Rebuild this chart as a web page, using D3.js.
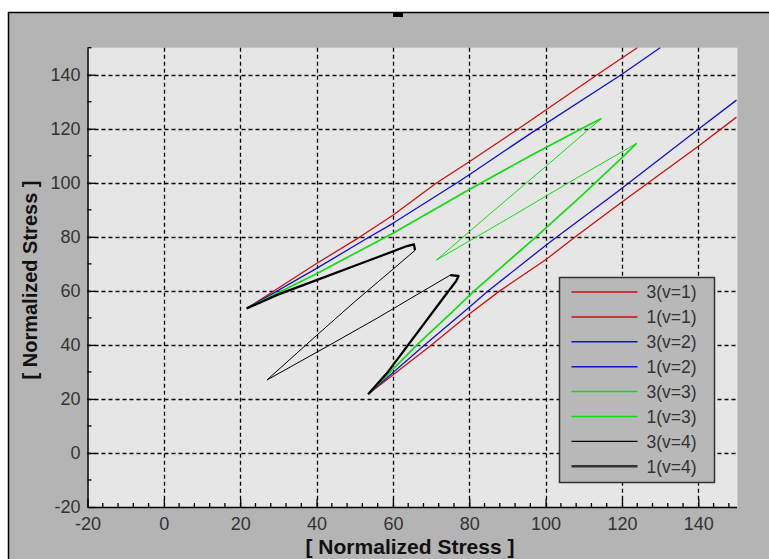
<!DOCTYPE html>
<html>
<head>
<meta charset="utf-8">
<script src="https://cdn.jsdelivr.net/npm/d3@7"></script>
<style>
    html, body { margin: 0; padding: 0; background: #fff; }
    svg { display: block; }
</style>
</head>
<body>
<div id="chart"></div>
<script>
// upper branches ("3") and lower branches ("1"), [x, y] in normalized stress
var red3 = [[21.7,53.5],[40,70.1],[51.4,80],[60,88],[71.5,100],[80,107.8],[92.9,120],[113.5,140],[124,150]];
var red1 = [[53.5,21.7],[70.1,40],[80,51.4],[88,60],[100,71.5],[107.8,80],[120,92.9],[140,113.5],[150,124.3]];
var blue3 = [[21.7,53.5],[40,68.3],[52.7,79],[60,85],[76.8,100],[80,103],[96,118.2],[119.8,140],[130,150]];
var blue1 = [[53.5,21.7],[68.3,40],[79,52.7],[85,60],[100,76.8],[103,80],[118.2,96],[140,119.8],[150,130.6]];
var green3Load = [[21.7,53.5],[40,66.3],[52.7,75.9],[60,81.3],[80,97.5],[96,110],[110,120.5],[114.6,123.8]];
var green3Unload = [[114.6,123.8],[100,106],[85,88],[71.4,71.4]];
var green1Load = [[53.5,21.7],[66.3,40],[75.9,52.7],[81.3,60],[97.5,80],[110,96],[120.5,110],[123.8,114.6]];
var green1Unload = [[123.8,114.6],[106,100],[88,85],[71.4,71.4]];
var black3Load = [[21.7,53.5],[30,58.7],[40,64],[50,69.3],[57,73],[63.7,76.6],[65.5,77.2],[65.8,75]];
var black3Unload = [[65.8,75],[60,68],[50,56],[40,43.5],[27,27]];
var black1Load = [[53.5,21.7],[58.7,30],[64,40],[69.3,50],[73,57],[76.6,63.7],[77.2,65.5],[75,65.8]];
var black1Unload = [[75,65.8],[68,60],[56,50],[43.5,40],[27,27]];

var legendLabels = ['3(v=1)','1(v=1)','3(v=2)','1(v=2)','3(v=3)','1(v=3)','3(v=4)','1(v=4)'];
var xTicks = [-20,0,20,40,60,80,100,120,140];
var yTicks = [-20,0,20,40,60,80,100,120,140];
var axisTitle = '[ Normalized Stress ]';

var W = 769, H = 559,
    RED = '#cc1111', BLUE = '#1111cc', GREEN = '#11dd11', BLACK = '#000';

var svg = d3.select('#chart').append('svg')
    .attr('width', W)
    .attr('height', H);

// grey panel with its top/left frame
svg.append('rect')
    .attr('x', 8).attr('y', 12)
    .attr('width', W - 8).attr('height', H - 12)
    .attr('fill', '#b4b4b4');
svg.append('path')
    .attr('d', 'M8.5,' + H + 'V12.5H' + W)
    .attr('fill', 'none')
    .attr('stroke', '#000')
    .attr('stroke-width', 1.5);
svg.append('rect')
    .attr('x', 393).attr('y', 12)
    .attr('width', 10).attr('height', 5)
    .attr('fill', '#000');

var x = d3.scaleLinear().domain([-20, 150]).range([87.5, 736.5]),
    y = d3.scaleLinear().domain([-20, 150]).range([507, 47.7]);

svg.append('rect')
    .attr('x', x(-20)).attr('y', y(150))
    .attr('width', 737.5 - x(-20)).attr('height', y(-20) - y(150))
    .attr('fill', '#e6e6e6');

// dashed grid
var grid = svg.append('g')
    .attr('stroke', '#000')
    .attr('stroke-width', 1.3)
    .attr('stroke-dasharray', '4,3');
grid.selectAll('.gx')
    .data(xTicks.filter(function(d){ return d > -20; }))
    .enter().append('line')
    .attr('x1', function(d){ return Math.round(x(d)) + 0.5; })
    .attr('x2', function(d){ return Math.round(x(d)) + 0.5; })
    .attr('y1', y(150)).attr('y2', y(-20));
grid.selectAll('.gy')
    .data(yTicks.filter(function(d){ return d > -20; }))
    .enter().append('line')
    .attr('y1', function(d){ return Math.round(y(d)) + 0.5; })
    .attr('y2', function(d){ return Math.round(y(d)) + 0.5; })
    .attr('x1', x(-20)).attr('x2', 737.5);

// axes, ticks pointing inward
var xMinor = d3.range(-16, 150, 4).filter(function(d){ return (d + 20) % 20 !== 0; }),
    yMinor = d3.range(-10, 151, 20),
    plain = function(d){ return String(d); };

var xAxis = svg.append('g')
    .attr('transform', 'translate(0,' + y(-20) + ')')
    .call(d3.axisBottom(x).tickValues(xTicks).tickFormat(plain)
        .tickSizeInner(-8).tickSizeOuter(0).tickPadding(13));
xAxis.selectAll('.minor')
    .data(xMinor)
    .enter().append('line')
    .attr('class', 'minor')
    .attr('x1', function(d){ return x(d); })
    .attr('x2', function(d){ return x(d); })
    .attr('y1', 0).attr('y2', -4)
    .attr('stroke', '#000');

var yAxis = svg.append('g')
    .attr('transform', 'translate(' + x(-20) + ',0)')
    .call(d3.axisLeft(y).tickValues(yTicks).tickFormat(plain)
        .tickSizeInner(-8).tickSizeOuter(0).tickPadding(7));
yAxis.selectAll('.minor')
    .data(yMinor)
    .enter().append('line')
    .attr('class', 'minor')
    .attr('y1', function(d){ return y(d); })
    .attr('y2', function(d){ return y(d); })
    .attr('x1', 0).attr('x2', 4)
    .attr('stroke', '#000');

[xAxis, yAxis].forEach(function(g){
    g.select('.domain').attr('stroke', '#000').attr('stroke-width', 1.5);
    g.selectAll('line').attr('stroke', '#000').attr('stroke-width', 1.3);
    g.selectAll('text')
        .attr('fill', '#333')
        .style('font-family', '"Liberation Sans", Arial, sans-serif')
        .style('font-size', '18px');
});
xAxis.selectAll('.tick text').attr('dy', '0.55em');

// curves
var line = d3.line()
    .x(function(d){ return x(d[0]); })
    .y(function(d){ return y(d[1]); });

var curves = [
    { pts: red3, color: RED, w: 1.3 },
    { pts: red1, color: RED, w: 1.3 },
    { pts: blue3, color: BLUE, w: 1.3 },
    { pts: blue1, color: BLUE, w: 1.3 },
    { pts: green3Load, color: GREEN, w: 1.7 },
    { pts: green3Unload, color: GREEN, w: 1 },
    { pts: green1Load, color: GREEN, w: 1.7 },
    { pts: green1Unload, color: GREEN, w: 1 },
    { pts: black3Load, color: BLACK, w: 2.3 },
    { pts: black3Unload, color: BLACK, w: 1 },
    { pts: black1Load, color: BLACK, w: 2.3 },
    { pts: black1Unload, color: BLACK, w: 1 }
];

svg.append('g').selectAll('path')
    .data(curves)
    .enter().append('path')
    .attr('d', function(d){ return line(d.pts); })
    .attr('fill', 'none')
    .attr('stroke', function(d){ return d.color; })
    .attr('stroke-width', function(d){ return d.w; })
    .attr('stroke-linejoin', 'round');

// legend
var legendColors = [RED, RED, BLUE, BLUE, GREEN, GREEN, BLACK, '#333'],
    legendWidths = [1.5, 1.5, 1.5, 1.5, 1.5, 1.5, 1.3, 2.5];
var legend = svg.append('g').attr('transform', 'translate(559.5,277.5)');
legend.append('rect')
    .attr('width', 155).attr('height', 205)
    .attr('fill', '#b8b8b8')
    .attr('stroke', '#333')
    .attr('stroke-width', 1.5);
var item = legend.selectAll('.item')
    .data(legendLabels)
    .enter().append('g')
    .attr('transform', function(d, i){ return 'translate(0,' + (14.5 + i * 24.9) + ')'; });
item.append('line')
    .attr('x1', 12).attr('x2', 78)
    .attr('stroke', function(d, i){ return legendColors[i]; })
    .attr('stroke-width', function(d, i){ return legendWidths[i]; });
item.append('text')
    .attr('x', 87)
    .attr('dy', '0.36em')
    .attr('fill', '#333')
    .style('font-family', '"Liberation Sans", Arial, sans-serif')
    .style('font-size', '17.5px')
    .text(function(d){ return d; });

// axis titles
svg.append('text')
    .attr('x', 410).attr('y', 554)
    .attr('text-anchor', 'middle')
    .attr('fill', '#111')
    .style('font-family', '"Liberation Sans", Arial, sans-serif')
    .style('font-weight', 'bold')
    .style('font-size', '21px')
    .text(axisTitle);
svg.append('text')
    .attr('transform', 'translate(37,280) rotate(-90)')
    .attr('text-anchor', 'middle')
    .attr('fill', '#111')
    .style('font-family', '"Liberation Sans", Arial, sans-serif')
    .style('font-weight', 'bold')
    .style('font-size', '20px')
    .text(axisTitle);
</script>
</body>
</html>
